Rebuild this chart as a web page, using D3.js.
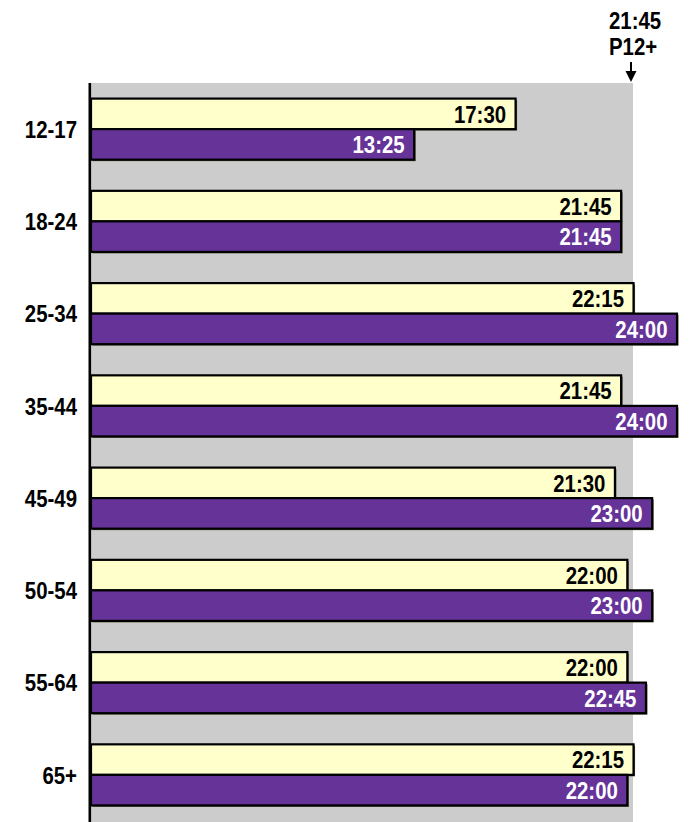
<!DOCTYPE html>
<html>
<head>
<meta charset="utf-8">
<script src="https://cdn.jsdelivr.net/npm/d3@7"></script>
<style>
  html, body { margin: 0; padding: 0; background: #fff; }
  svg { display: block; }
  text { font-family: "Liberation Sans Narrow", "Arial Narrow", "Liberation Sans", Arial, sans-serif; font-weight: bold; }
</style>
</head>
<body>
<svg id="chart" width="689" height="822"></svg>
<script>
// ---- data ----
const categories = ["12-17", "18-24", "25-34", "35-44", "45-49", "50-54", "55-64", "65+"];
const seriesKeys = ["total", "segment"];
// hours (decimal)
const totalValues = [17.5, 21.75, 22.25, 21.75, 21.5, 22, 22, 22.25];
const segmentValues = [13 + 25 / 60, 21.75, 24, 24, 23, 23, 22.75, 22];
const referenceValue = 21.75;
const referenceLabel = "P12+";

// ---- layout ----
const W = 689, H = 822;
const plotLeft = 91, plotRight = 633, plotTop = 83, plotBottom = 822;
const colors = { total: "#FFFFCC", segment: "#663399" };
const textColors = { total: "#000", segment: "#fff" };
const narrow = 0.85; // condensed text look

const fmt = v => {
  let h = Math.floor(v), m = Math.round((v - h) * 60);
  if (m === 60) { h += 1; m = 0; }
  return h + ":" + String(m).padStart(2, "0");
};

const rows = categories.map((c, i) => ({
  cat: c,
  values: [
    { key: "total", value: totalValues[i] },
    { key: "segment", value: segmentValues[i] }
  ]
}));

const svg = d3.select("#chart");

const x = d3.scaleLinear().domain([0, 24]).range([81, 677]);
const y = d3.scaleBand().domain(categories).range([plotTop, 821])
  .paddingInner(0.338).paddingOuter(0.169);
const ySub = d3.scaleBand().domain(seriesKeys).range([0, y.bandwidth()]);

// plot background
svg.append("rect")
  .attr("x", plotLeft).attr("y", plotTop)
  .attr("width", plotRight - plotLeft).attr("height", plotBottom - plotTop)
  .attr("fill", "#CCCCCC");

// bars
const g = svg.selectAll("g.row").data(rows).join("g")
  .attr("class", "row")
  .attr("transform", d => `translate(0,${y(d.cat)})`);

const bars = g.selectAll("g.bar").data(d => d.values).join("g").attr("class", "bar");

bars.append("rect")
  .attr("x", plotLeft + 1.5)
  .attr("y", d => ySub(d.key) + 1.5)
  .attr("width", d => x(d.value) - plotLeft)
  .attr("height", ySub.bandwidth())
  .attr("fill", "#5a5a40");

bars.append("rect")
  .attr("x", plotLeft)
  .attr("y", d => ySub(d.key))
  .attr("width", d => x(d.value) - plotLeft)
  .attr("height", ySub.bandwidth())
  .attr("fill", d => colors[d.key])
  .attr("stroke", "#000")
  .attr("stroke-width", 2.2);

bars.append("text")
  .attr("transform", d => `translate(${x(d.value) - 9.5},${ySub(d.key) + ySub.bandwidth() / 2}) scale(${narrow},1)`)
  .attr("dy", "0.36em")
  .attr("text-anchor", "end")
  .attr("font-size", 24)
  .attr("fill", d => textColors[d.key])
  .text(d => fmt(d.value));

// category labels
svg.selectAll("text.cat").data(categories).join("text")
  .attr("class", "cat")
  .attr("transform", d => `translate(77,${y(d) + y.bandwidth() / 2}) scale(${narrow},1)`)
  .attr("dy", "0.36em")
  .attr("text-anchor", "end")
  .attr("font-size", 24)
  .attr("fill", "#000")
  .text(d => d);

// axis line
svg.append("line")
  .attr("x1", 89.8).attr("x2", 89.8)
  .attr("y1", plotTop).attr("y2", H)
  .attr("stroke", "#000").attr("stroke-width", 2.6);

// reference annotation
const ann = svg.append("g");
ann.append("text").attr("transform", `translate(${plotRight - 24},29) scale(${narrow},1)`)
  .attr("font-size", 24).attr("fill", "#000").text(fmt(referenceValue));
ann.append("text").attr("transform", `translate(${plotRight - 24},55) scale(${narrow},1)`)
  .attr("font-size", 24).attr("fill", "#000").text(referenceLabel);
ann.append("line")
  .attr("x1", plotRight - 2).attr("x2", plotRight - 2)
  .attr("y1", 62).attr("y2", 74)
  .attr("stroke", "#000").attr("stroke-width", 2);
ann.append("path")
  .attr("d", `M${plotRight - 7.5},71 L${plotRight + 3.5},71 L${plotRight - 2},82 Z`)
  .attr("fill", "#000");
</script>
</body>
</html>
